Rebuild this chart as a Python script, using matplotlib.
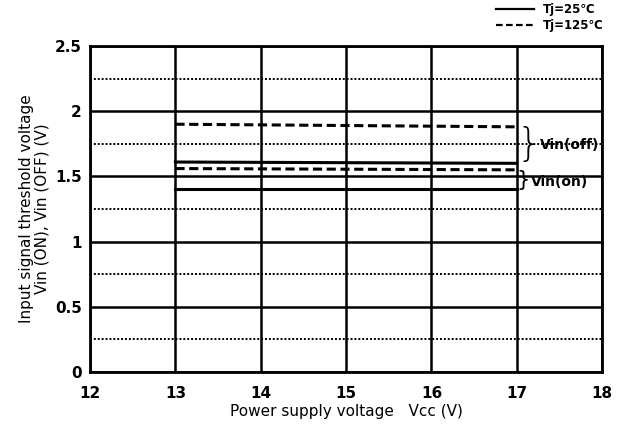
import numpy as np
import matplotlib.pyplot as plt
from matplotlib.lines import Line2D

# supply voltage range of the curves
vcc = [13, 17]
# threshold voltages (V)
vin_off_25 = [1.61, 1.60]
vin_off_125 = [1.90, 1.88]
vin_on_25 = [1.40, 1.40]
vin_on_125 = [1.56, 1.55]

xticks = [12, 13, 14, 15, 16, 17, 18]
yticks = [0, 0.5, 1, 1.5, 2, 2.5]
yticks_minor = [0.25, 0.75, 1.25, 1.75, 2.25]

fig = plt.figure(figsize=(6.17, 4.26), dpi=100)
ax = fig.add_axes([0.146, 0.127, 0.83, 0.765])

ax.set_xlim(12, 18)
ax.set_ylim(0, 2.5)

# grid
for x in xticks:
    ax.axvline(x, color='black', lw=1.8, zorder=1)
for y in yticks:
    ax.axhline(y, color='black', lw=1.8, zorder=1)
for y in yticks_minor:
    ax.axhline(y, color='black', lw=1.4, ls=(0, (1.0, 1.0)), zorder=1)

ax.plot(vcc, vin_off_125, color='black', lw=2.2, ls=(0, (3, 1.5)), zorder=3)
ax.plot(vcc, vin_off_25, color='black', lw=2.2, zorder=3)
ax.plot(vcc, vin_on_125, color='black', lw=2.2, ls=(0, (3, 1.5)), zorder=3)
ax.plot(vcc, vin_on_25, color='black', lw=2.2, zorder=3)

for s in ax.spines.values():
    s.set_linewidth(2)

ax.set_xticks(xticks)
ax.set_yticks(yticks)
ax.set_xticklabels([str(x) for x in xticks], fontweight='bold', fontsize=11)
ax.set_yticklabels(['0', '0.5', '1', '1.5', '2', '2.5'], fontweight='bold', fontsize=11)
ax.tick_params(axis='x', length=0, pad=10)
ax.tick_params(axis='y', length=0, pad=6)

ax.set_xlabel('Power supply voltage   Vcc (V)', fontsize=11, labelpad=2)
ax.set_ylabel('Input signal threshold voltage\nVin (ON), Vin (OFF) (V)', fontsize=11, labelpad=4,
              linespacing=1.0)

# braces and labels
off_mid = (vin_off_125[1] + vin_off_25[1]) / 2
on_mid = (vin_on_125[1] + vin_on_25[1]) / 2
ax.text(17.0, off_mid, '}', fontsize=28, va='center', ha='left',
        fontweight='light', clip_on=False)
ax.text(17.27, off_mid, 'Vin(off)', fontsize=10, fontweight='bold',
        va='center', ha='left')
ax.text(17.0, on_mid, '}', fontsize=15, va='center', ha='left', clip_on=False)
ax.text(17.17, on_mid - 0.02, 'Vin(on)', fontsize=10, fontweight='bold',
        va='center', ha='left')

handles = [Line2D([], [], color='black', lw=1.6),
           Line2D([], [], color='black', lw=1.6, ls=(0, (3, 1.5)))]
fig.legend(handles, ['Tj=25\u2103', 'Tj=125\u2103'], loc='upper right',
           bbox_to_anchor=(0.99, 1.01), frameon=False, handlelength=3.2,
           labelspacing=0.3, borderaxespad=0.2, prop={'weight': 'bold', 'size': 8.5})

fig.savefig('out.png', dpi=100)
